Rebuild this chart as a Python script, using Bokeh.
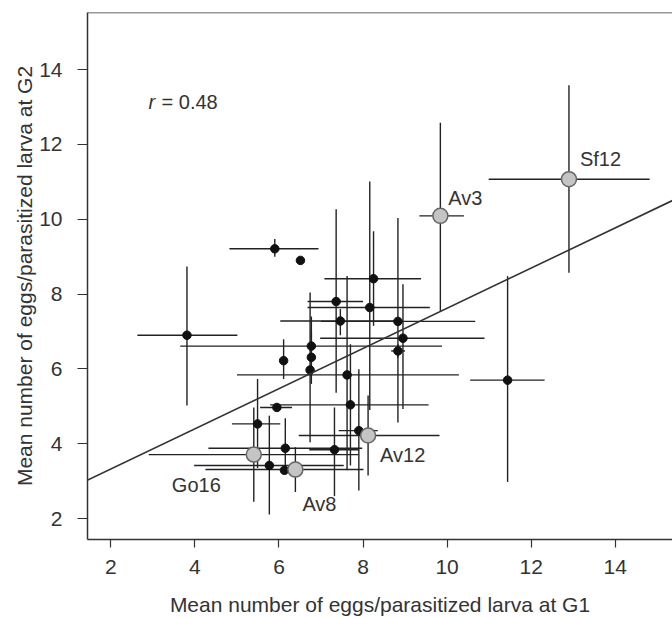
from bokeh.plotting import figure
from bokeh.models import ColumnDataSource, FixedTicker, Slope, Span, Range1d
from bokeh.core.properties import value
from bokeh.embed import file_html
from bokeh.resources import INLINE

# ---------------- data ----------------
x_ticks = [2, 4, 6, 8, 10, 12, 14]
y_ticks = [2, 4, 6, 8, 10, 12, 14]

# black points: mean eggs per parasitized larva at G1 / G2, with interval limits
g1 = [5.90, 6.51, 3.81, 7.36, 8.25, 8.16, 7.46, 8.83, 8.95, 6.77, 6.77, 6.74,
      6.11, 7.62, 8.83, 11.44, 5.95, 5.49, 7.70, 7.90, 6.15, 5.77, 6.13, 7.32]
g2 = [9.21, 8.90, 6.90, 7.80, 8.41, 7.64, 7.28, 7.27, 6.82, 6.61, 6.31, 5.97,
      6.22, 5.84, 6.48, 5.70, 4.97, 4.53, 5.04, 4.35, 3.88, 3.42, 3.29, 3.84]
g1_lo = [4.82, 6.51, 2.63, 6.68, 7.08, 6.68, 6.03, 7.00, 6.98, 3.65, 6.77, 6.74,
         6.11, 5.00, 8.67, 10.55, 5.55, 4.88, 5.79, 7.42, 4.32, 3.98, 6.13, 6.72]
g1_hi = [6.94, 6.51, 5.01, 8.00, 9.38, 9.59, 8.90, 10.67, 10.89, 9.88, 6.77, 6.74,
         6.11, 10.28, 9.00, 12.32, 6.31, 6.03, 9.56, 8.35, 7.98, 7.54, 6.13, 7.90]
g2_lo = [9.00, 8.90, 5.02, 5.36, 7.15, 4.90, 6.90, 4.57, 4.93, 5.80, 5.60, 4.04,
         5.73, 3.29, 6.30, 2.98, 4.97, 3.35, 3.42, 2.75, 3.24, 2.11, 3.29, 2.60]
g2_hi = [9.47, 8.90, 8.74, 10.27, 9.68, 11.01, 7.60, 10.03, 8.26, 7.40, 7.00, 8.04,
         6.79, 8.48, 6.66, 8.48, 4.97, 5.73, 6.66, 5.99, 4.68, 4.75, 3.29, 4.97]

# highlighted (grey) populations
hl_names = ["Sf12", "Av3", "Av12", "Go16", "Av8"]
hl_g1 = [12.90, 9.84, 8.12, 5.40, 6.39]
hl_g2 = [11.07, 10.09, 4.22, 3.71, 3.31]
hl_g1_lo = [10.99, 9.34, 6.47, 2.90, 4.25]
hl_g1_hi = [14.82, 10.40, 9.82, 7.90, 8.01]
hl_g2_lo = [8.57, 7.55, 3.15, 2.45, 2.71]
hl_g2_hi = [13.58, 12.58, 5.29, 4.97, 3.91]

# regression line
reg_intercept = 2.25
reg_slope = 0.537
r_text = "= 0.48"

# ---------------- styling ----------------
FONT = "Liberation Sans"
TXT = "#333333"
LINE = "#222222"

lbl_xoff = [11, 8, 12, -33, 7]
lbl_yoff = [-20, -18, 19, 30, 34]
lbl_align = ["left", "left", "left", "right", "left"]

x0, x1 = 1.443, 15.364
y0, y1 = 1.441, 15.525

p = figure(width=672, height=618, output_backend="svg", toolbar_location=None,
           x_range=Range1d(x0, x1), y_range=Range1d(y0, y1),
           min_border_left=87, min_border_top=12, min_border_right=0,
           min_border_bottom=77)
p.outline_line_color = None
p.grid.visible = False
p.background_fill_color = "white"
p.border_fill_color = "white"

for ax, ticks, lab in ((p.xaxis, x_ticks, "Mean number of eggs/parasitized larva at G1"),
                       (p.yaxis, y_ticks, "Mean number of eggs/parasitized larva at G2")):
    ax.ticker = FixedTicker(ticks=ticks)
    ax.axis_label = lab
    ax.axis_line_color = "#333333"
    ax.axis_line_width = 1.5
    ax.major_tick_line_color = "#333333"
    ax.major_tick_line_width = 1.2
    ax.major_tick_in = 0
    ax.minor_tick_line_color = None
    ax.major_label_text_font = FONT
    ax.major_label_text_font_size = "21px"
    ax.major_label_text_color = TXT
    ax.axis_label_text_font = FONT
    ax.axis_label_text_font_size = "21px"
    ax.axis_label_text_font_style = "normal"
    ax.axis_label_text_color = TXT

p.xaxis.major_tick_out = 8
p.xaxis.major_label_standoff = 12
p.xaxis.axis_label_standoff = 16
p.yaxis.major_tick_out = 10
p.yaxis.major_label_standoff = 15
p.yaxis.axis_label_standoff = 0

# top border of the box
p.add_layout(Span(location=y1, dimension="width", line_color="#333333", line_width=1.5))

src = ColumnDataSource(dict(g1=g1, g2=g2, g1_lo=g1_lo, g1_hi=g1_hi, g2_lo=g2_lo, g2_hi=g2_hi))
hsrc = ColumnDataSource(dict(g1=hl_g1, g2=hl_g2, g1_lo=hl_g1_lo, g1_hi=hl_g1_hi,
                             g2_lo=hl_g2_lo, g2_hi=hl_g2_hi, name=hl_names,
                             xo=lbl_xoff, yo=lbl_yoff, align=lbl_align))

for s in (src, hsrc):
    p.segment(x0="g1_lo", x1="g1_hi", y0="g2", y1="g2", source=s, line_color=LINE, line_width=1.4)
    p.segment(x0="g1", x1="g1", y0="g2_lo", y1="g2_hi", source=s, line_color=LINE, line_width=1.4)

p.add_layout(Slope(gradient=reg_slope, y_intercept=reg_intercept, line_color="#333333", line_width=1.6))

p.scatter(x="g1", y="g2", source=src, size=8.5, fill_color="#111111", line_color="#111111")
p.scatter(x="g1", y="g2", source=hsrc, size=15, fill_color="#c4c4c4", line_color="#666666", line_width=1.5)

p.text(x="g1", y="g2", text="name", source=hsrc, x_offset="xo", y_offset="yo",
       text_align="align", text_baseline="middle", text_font=value(FONT),
       text_font_size="20px", text_color=TXT)

# correlation annotation
p.text(x=[2.895], y=[13.13], text=["r"], text_font=value(FONT), text_font_style="italic",
       text_font_size="20px", text_color=TXT, text_baseline="middle", text_align="left")
p.text(x=[2.895], y=[13.13], text=[r_text], x_offset=13, text_font=value(FONT),
       text_font_size="20px", text_color=TXT, text_baseline="middle", text_align="left")

open("out.html", "w").write(file_html(p, INLINE))
